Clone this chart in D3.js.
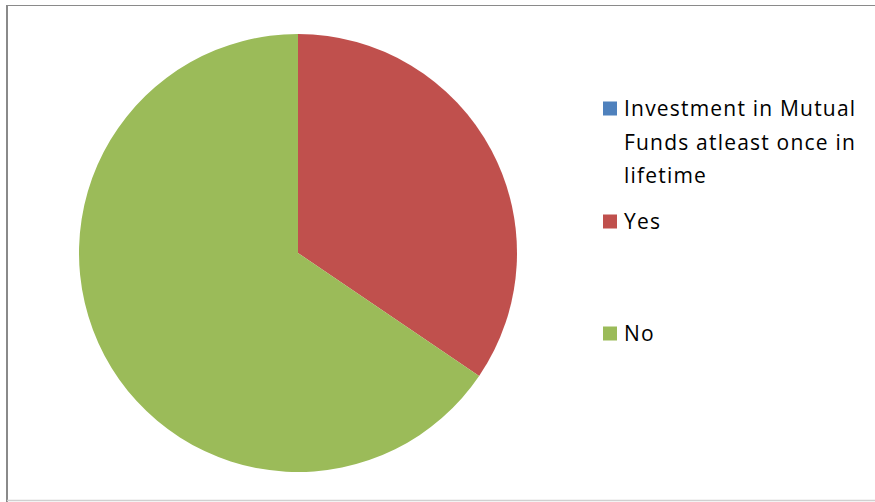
<!DOCTYPE html>
<html>
<head>
<meta charset="utf-8">
<script src="https://cdn.jsdelivr.net/npm/d3@7"></script>
<style>
  html, body { margin: 0; padding: 0; background: #fff; }
  svg { display: block; }
</style>
</head>
<body>
<svg id="chart"></svg>
<script>
'use strict';

// legend entries, in order (the header row shows up as a zero slice)
const labels = ['Investment in Mutual Funds atleast once in lifetime', 'Yes', 'No'];
const legendLines = [['Investment in Mutual', 'Funds atleast once in', 'lifetime'], ['Yes'], ['No']];
const values = [0, 34.5, 65.5];
const colors = ['#4F81BD', '#C0504D', '#9BBB59'];

(function() {
  const width = 875;
  const height = 502;
  const cx = 298, cy = 253, radius = 219;

  const svg = d3.select('#chart')
    .attr('width', width)
    .attr('height', height);

  // frame of the chart area
  svg.append('line').attr('x1', 6).attr('x2', width).attr('y1', 5.5).attr('y2', 5.5)
    .attr('stroke', '#8a8a8a').attr('stroke-width', 1.2);
  svg.append('line').attr('x1', 7).attr('x2', 7).attr('y1', 5).attr('y2', height)
    .attr('stroke', '#8a8a8a').attr('stroke-width', 2);
  svg.append('line').attr('x1', 7).attr('x2', width).attr('y1', 500.5).attr('y2', 500.5)
    .attr('stroke', '#d0d0d0').attr('stroke-width', 1.5);

  const pie = d3.pie().sort(null).value(d => d);
  const arc = d3.arc().innerRadius(0).outerRadius(radius);

  const color = d3.scaleOrdinal().domain(labels).range(colors);

  svg.append('g')
    .attr('transform', `translate(${cx}, ${cy})`)
    .selectAll('path')
    .data(pie(values))
    .enter()
    .append('path')
      .attr('d', arc)
      .attr('fill', (d, i) => color(labels[i]));

  // legend
  const legendY = [108.5, 221.5, 333.5];
  const lineStep = 33.5;
  const legend = svg.append('g');

  legendLines.forEach((lines, i) => {
    legend.append('rect')
      .attr('x', 603)
      .attr('y', legendY[i] - 7)
      .attr('width', 14)
      .attr('height', 14)
      .attr('fill', color(labels[i]));

    lines.forEach((t, j) => {
      legend.append('text')
        .attr('x', 624)
        .attr('y', legendY[i] + j * lineStep)
        .attr('dy', '0.36em')
        .attr('font-family', '"Open Sans", sans-serif')
        .attr('font-size', 21)
        .attr('letter-spacing', 1.2)
        .attr('fill', '#000')
        .text(t);
    });
  });
})();
</script>
</body>
</html>
